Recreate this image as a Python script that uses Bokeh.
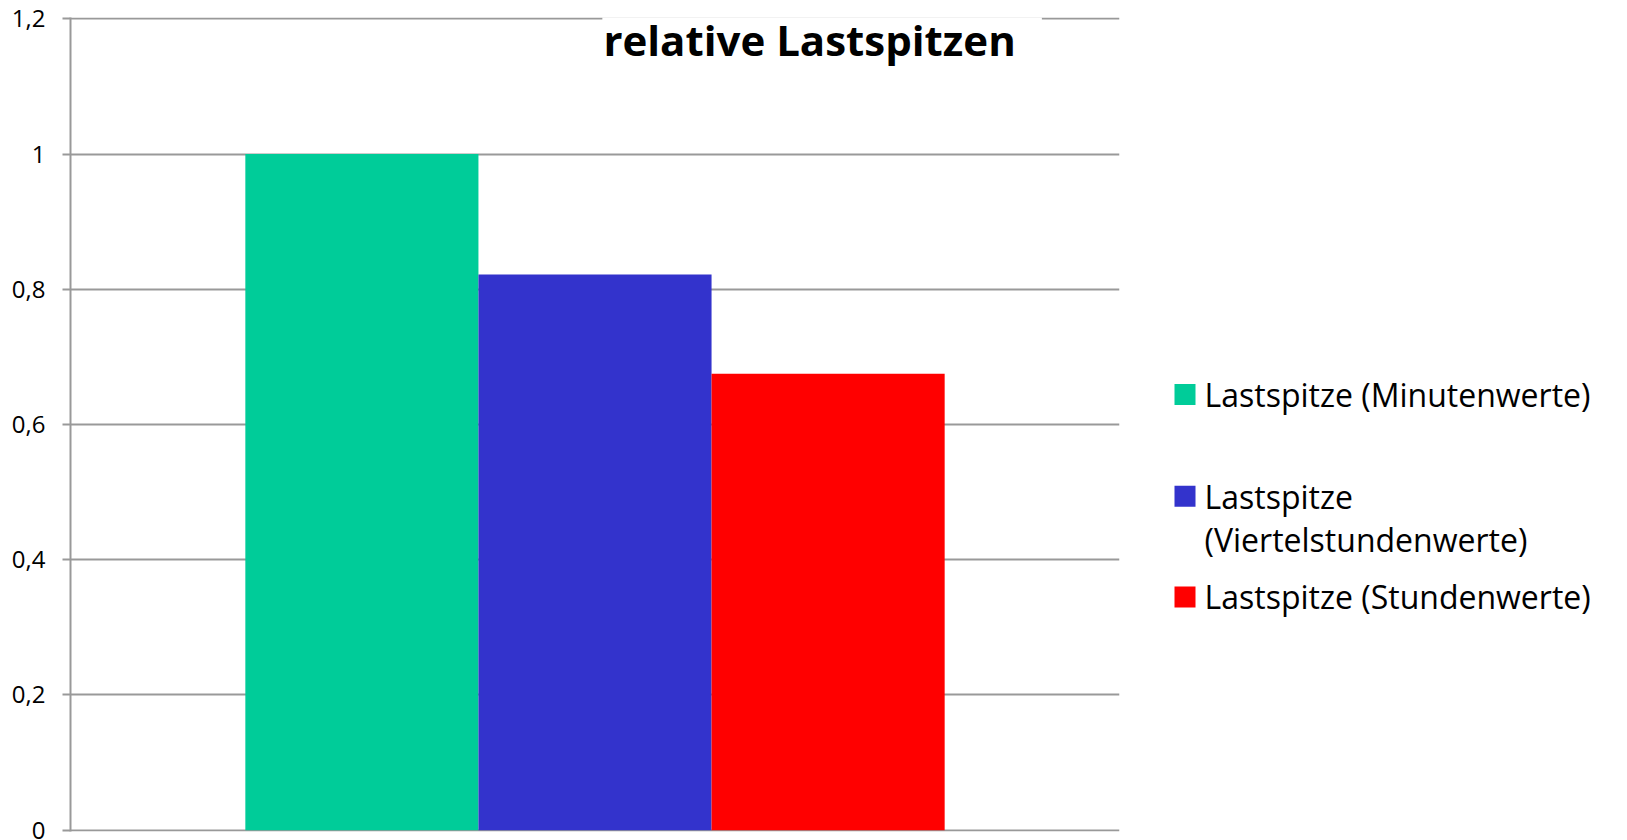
from bokeh.plotting import figure
from bokeh.layouts import row
from bokeh.models import ColumnDataSource, FactorRange, Range1d, FixedTicker, Label, BoxAnnotation
from bokeh.transform import dodge
from bokeh.core.properties import value
from bokeh.embed import file_html
from bokeh.resources import INLINE

# --- data -------------------------------------------------------------
categories = ["Lastspitzen"]
series_names = [
    "Lastspitze (Minutenwerte)",
    "Lastspitze (Viertelstundenwerte)",
    "Lastspitze (Stundenwerte)",
]
series_values = [1.0, 0.822, 0.675]
series_colors = ["#00CC99", "#3333CC", "#FF0000"]
y_ticks = [0, 0.2, 0.4, 0.6, 0.8, 1.0, 1.2]
y_tick_labels = ["0", "0,2", "0,4", "0,6", "0,8", "1", "1,2"]
title_text = "relative Lastspitzen"

# --- styling ----------------------------------------------------------
GRID = "#999999"
FONT = "Open Sans"
GAP_WIDTH = 1.5  # gap between groups, in bar widths
PAD = 0.002      # keeps the 0 and 1.2 grid lines inside the frame

# --- main chart -------------------------------------------------------
p = figure(
    x_range=FactorRange(factors=categories, range_padding=0),
    y_range=Range1d(-PAD, 1.2 + PAD),
    width=1130, height=840,
    output_backend="svg", toolbar_location=None,
    x_axis_location=None, title=None,
    min_border_left=70, min_border_right=11,
    min_border_top=17, min_border_bottom=9,
    outline_line_color=None,
)

bar_w = 1.0 / (len(series_values) + GAP_WIDTH)
for i, (name, val, col) in enumerate(zip(series_names, series_values, series_colors)):
    offset = (i - (len(series_values) - 1) / 2) * bar_w
    src = ColumnDataSource(dict(cat=categories, val=[val]))
    p.vbar(x=dodge("cat", offset, range=p.x_range), top="val", bottom=0,
           width=bar_w, source=src, fill_color=col, line_color=None)

p.yaxis.ticker = FixedTicker(ticks=y_ticks)
p.yaxis.major_label_overrides = dict(zip(y_ticks, y_tick_labels))
p.yaxis.axis_line_color = GRID
p.yaxis.axis_line_width = 2
p.yaxis.major_tick_line_color = GRID
p.yaxis.major_tick_line_width = 2
p.yaxis.major_tick_out = 8
p.yaxis.major_tick_in = 0
p.yaxis.minor_tick_line_color = None
p.yaxis.major_label_standoff = 17
p.yaxis.major_label_text_font = FONT
p.yaxis.major_label_text_font_size = "24px"
p.yaxis.major_label_text_color = "black"

p.xgrid.grid_line_color = None
p.ygrid.grid_line_color = GRID
p.ygrid.grid_line_width = 2

# title sits on a white patch that interrupts the top grid line
p.add_layout(BoxAnnotation(left=0.507, right=0.926, bottom=1.17, top=1.23,
                           fill_color="white", fill_alpha=1, line_color=None,
                           level="overlay"))
p.add_layout(Label(x=0.508, y=1.169, text=title_text, text_align="left",
                   text_baseline="alphabetic", text_font=FONT,
                   text_font_style="bold", text_font_size="42px",
                   text_color="black", level="overlay"))

# --- legend panel -------------------------------------------------------
leg = figure(
    width=497, height=840,
    x_range=Range1d(0, 497), y_range=Range1d(840, 0),
    output_backend="svg", toolbar_location=None,
    x_axis_location=None, y_axis_location=None, title=None,
    min_border=0, outline_line_color=None,
)
leg.grid.visible = False

row_y = [389, 494, 598]
line_gap = 45
sw_x, txt_x = 54.5, 74
for name, col, y in zip(series_names, series_colors, row_y):
    leg.scatter([sw_x], [y], marker="square", size=21, fill_color=col, line_color=None)
    lines = [name] if len(name) < 28 else name.split(" ", 1)
    for k, ln in enumerate(lines):
        leg.text([txt_x], [y + k * line_gap], text=[ln], text_baseline="middle",
                 text_align="left", text_font=value(FONT), text_font_size="32px",
                 text_color="black")

layout = row(p, leg, spacing=0)
open("out.html", "w").write(file_html(layout, INLINE))
